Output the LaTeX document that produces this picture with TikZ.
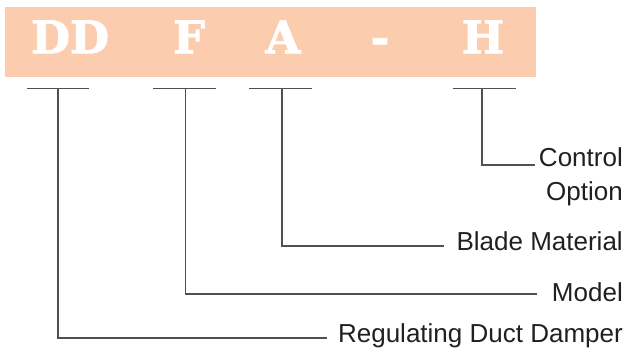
\documentclass[tikz,border=0pt]{standalone}
\usepackage{fontspec}
\setmainfont{Liberation Sans}
\newfontfamily\slabfont[BoldFeatures={FakeBold=2}]{DejaVu Serif}
\definecolor{peach}{RGB}{251,205,174}
\definecolor{ink}{RGB}{35,31,32}
\definecolor{linegray}{RGB}{80,80,80}
\begin{document}
\begin{tikzpicture}[x=1pt,y=-1pt,
  code/.style={font=\slabfont\bfseries\fontsize{45}{45}\selectfont, text=white, anchor=base, inner sep=0pt},
  lbl/.style={font=\fontsize{26}{34}\selectfont, text=ink, anchor=base east, inner sep=0pt},
  bar/.style={draw=linegray, line width=1.4pt},
  lead/.style={draw=linegray, line width=1.1pt}]
\useasboundingbox (0,0) rectangle (630,352);
\fill[peach] (5,7) rectangle (536,77);
% code letters
\node[code] (cDD) at (70,53.3) {DD};
\node[code] (cF) at (189,53.3) {F};
\node[code] (cA) at (283,53.3) {A};
\node[code] (cDash) at (380,53.3) {-};
\node[code] (cH) at (483,53.3) {H};
% bars under code letters
\coordinate (bDDl) at (27,88.7);  \coordinate (bDDr) at (89,88.7);
\coordinate (bFl) at (153,88.7);  \coordinate (bFr) at (216,88.7);
\coordinate (bAl) at (249,88.7);  \coordinate (bAr) at (312,88.7);
\coordinate (bHl) at (453,88.7);  \coordinate (bHr) at (516,88.7);
\draw[bar] (bDDl) -- (bDDr);
\draw[bar] (bFl) -- (bFr);
\draw[bar] (bAl) -- (bAr);
\draw[bar] (bHl) -- (bHr);
% tick points
\coordinate (tDD) at (58,88.7);
\coordinate (tF) at (185.5,88.7);
\coordinate (tA) at (282,88.7);
\coordinate (tH) at (482,88.7);
% labels
\node[lbl] (lCtrl) at (623,166.7) {Control};
\node[lbl] (lOpt) at (623,201) {Option};
\node[lbl] (lBlade) at (623,251) {Blade Material};
\node[lbl] (lModel) at (623,301.7) {Model};
\node[lbl] (lReg) at (623,342.7) {Regulating Duct Damper};
% leader ends
\coordinate (eH) at (535,165);
\coordinate (eA) at (444,246);
\coordinate (eF) at (537,294);
\coordinate (eDD) at (327,338);
\draw[lead] (tH) |- (eH);
\draw[lead] (tA) |- (eA);
\draw[lead] (tF) |- (eF);
\draw[lead] (tDD) |- (eDD);
\end{tikzpicture}
\end{document}
